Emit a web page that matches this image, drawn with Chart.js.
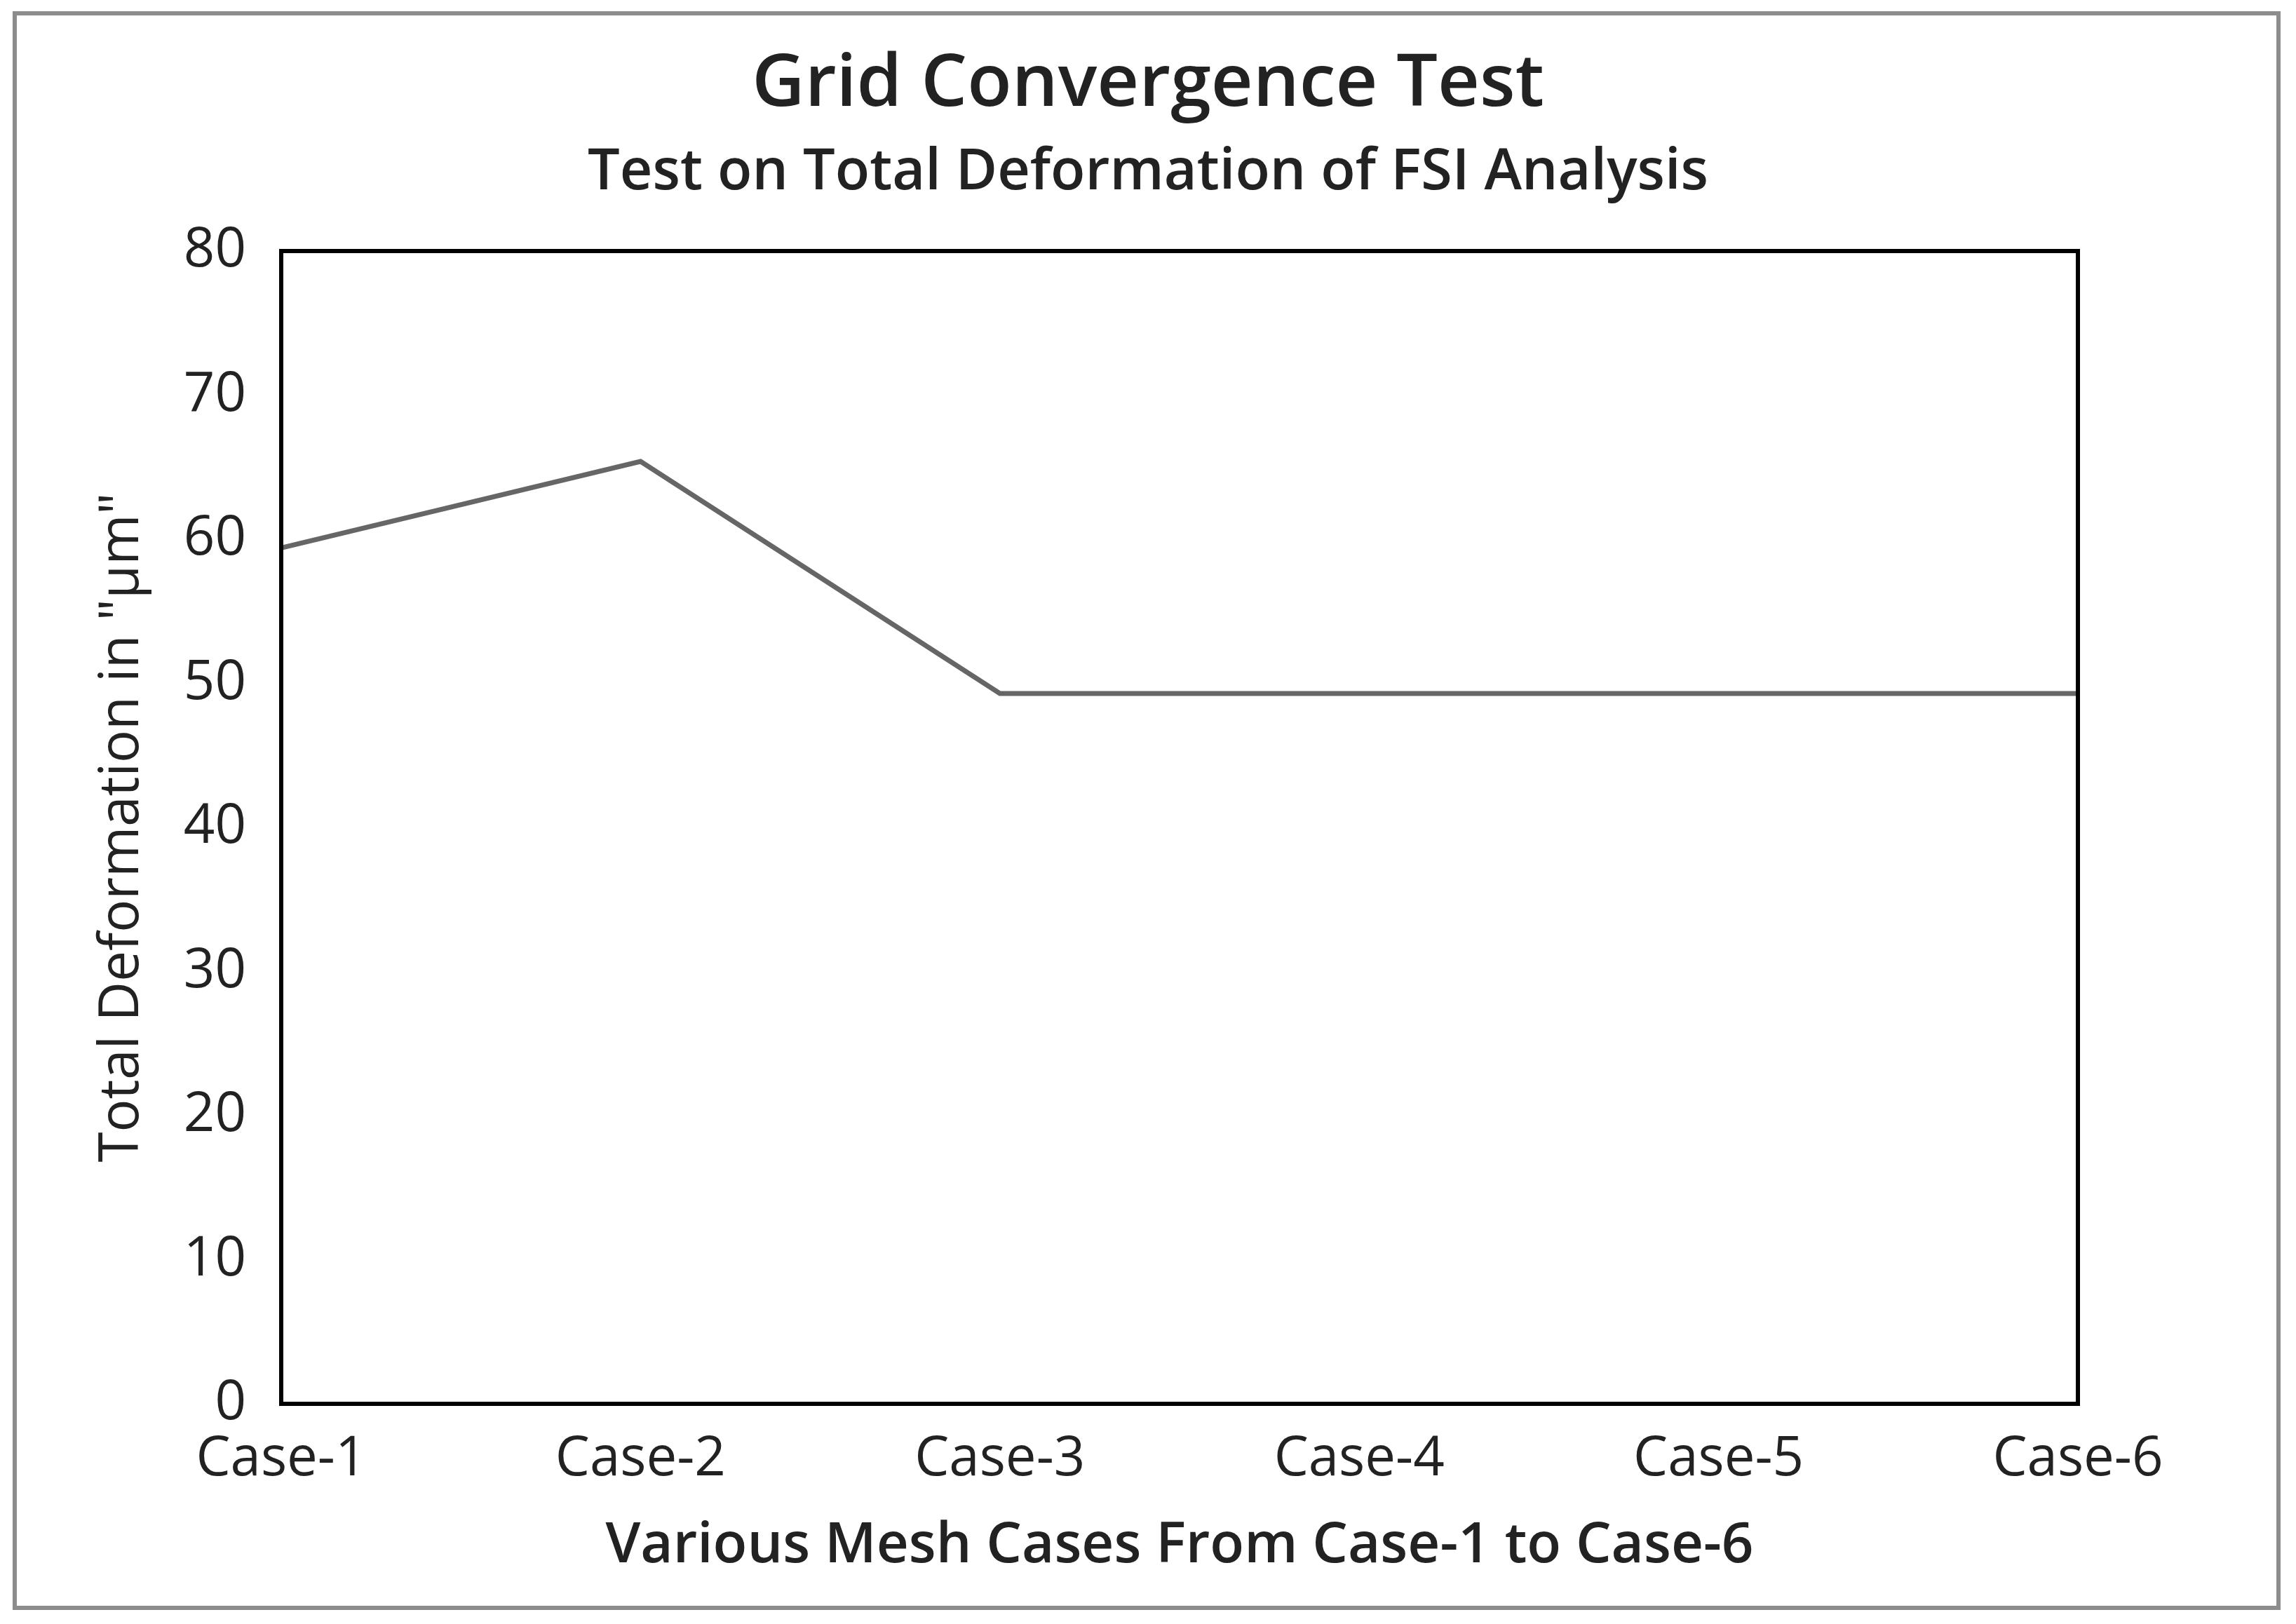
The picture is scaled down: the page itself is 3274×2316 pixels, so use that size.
<!DOCTYPE html>
<html>
<head>
<meta charset="utf-8">
<script src="https://cdn.jsdelivr.net/npm/chart.js@4.4.1/dist/chart.umd.min.js"></script>
<style>
  html, body { margin: 0; padding: 0; background: #fff; }
  #wrap { width: 3274px; height: 2316px; }
</style>
</head>
<body>
<div id="wrap"><canvas id="gridChart" width="3274" height="2316"></canvas></div>
<script>
const caseLabels = ['Case-1', 'Case-2', 'Case-3', 'Case-4', 'Case-5', 'Case-6'];
const deformation = [59.4, 65.4, 49.3, 49.3, 49.3, 49.3];
const yTicks = [0, 10, 20, 30, 40, 50, 60, 70, 80];

const textColor = '#222222';
const fontName = "'Open Sans', 'Noto Sans', sans-serif";

// outer gray frame + black box round the plot area
const framePlugin = {
    id: 'frame',
    beforeDraw(chart) {
        const c = chart.ctx;
        c.save();
        c.fillStyle = '#ffffff';
        c.fillRect(0, 0, chart.width, chart.height);
        c.strokeStyle = '#8c8c8c';
        c.lineWidth = 6;
        c.strokeRect(21, 19, 3228, 2274);
        c.restore();
    },
    afterDatasetsDraw(chart) {
        const a = chart.chartArea, c = chart.ctx;
        c.save();
        c.strokeStyle = '#000000';
        c.lineWidth = 6;
        c.strokeRect(a.left, a.top, a.right - a.left, a.bottom - a.top);
        c.restore();
    }
};

new Chart('gridChart', {
    type: 'line',
    data: {
        labels: caseLabels,
        datasets: [{
            data: deformation,
            borderColor: '#666666',
            borderWidth: 7,
            pointRadius: 0,
            tension: 0,
            fill: false
        }]
    },
    options: {
        responsive: false,
        devicePixelRatio: 1,
        animation: false,
        layout: { padding: 0 },
        plugins: {
            legend: { display: false },
            tooltip: { enabled: false },
            title: {
                display: true,
                text: 'Grid Convergence Test',
                color: textColor,
                font: { family: fontName, size: 104, weight: '600', lineHeight: 1.2 },
                padding: { top: 59, bottom: 0 }
            },
            subtitle: {
                display: true,
                text: 'Test on Total Deformation of FSI Analysis',
                color: textColor,
                font: { family: fontName, size: 81, weight: '600', lineHeight: 1.2 },
                padding: { top: 15, bottom: 62 }
            }
        },
        scales: {
            x: {
                offset: false,
                grid: { display: false, drawTicks: false },
                border: { display: false },
                ticks: {
                    color: textColor,
                    font: { family: fontName, size: 78 },
                    padding: 33,
                    maxRotation: 0,
                    autoSkip: false
                },
                title: {
                    display: true,
                    text: 'Various Mesh Cases From Case-1 to Case-6',
                    color: textColor,
                    font: { family: fontName, size: 80, weight: '600', lineHeight: 1.2 },
                    padding: { top: 0, bottom: 63 }
                },
                afterFit(scale) { scale.height = 314; }
            },
            y: {
                min: 0,
                max: 80,
                grid: { display: false, drawTicks: false },
                border: { display: false },
                afterBuildTicks(scale) { scale.ticks = yTicks.map(v => ({ value: v })); },
                ticks: {
                    color: textColor,
                    font: { family: fontName, size: 78 },
                    padding: 50
                },
                title: {
                    display: true,
                    text: 'Total Deformation in "µm"',
                    color: textColor,
                    font: { family: fontName, size: 78, lineHeight: 1.2 },
                    padding: { top: 128, bottom: 0 }
                },
                afterFit(scale) { scale.width = 401; }
            },
            // empty right axis, only keeps space so the titles stay centred on the page
            yRight: {
                position: 'right',
                min: 0,
                max: 80,
                grid: { display: false, drawTicks: false },
                border: { display: false },
                ticks: { display: false },
                afterFit(scale) { scale.width = 311; }
            }
        }
    },
    plugins: [framePlugin]
});
</script>
</body>
</html>
